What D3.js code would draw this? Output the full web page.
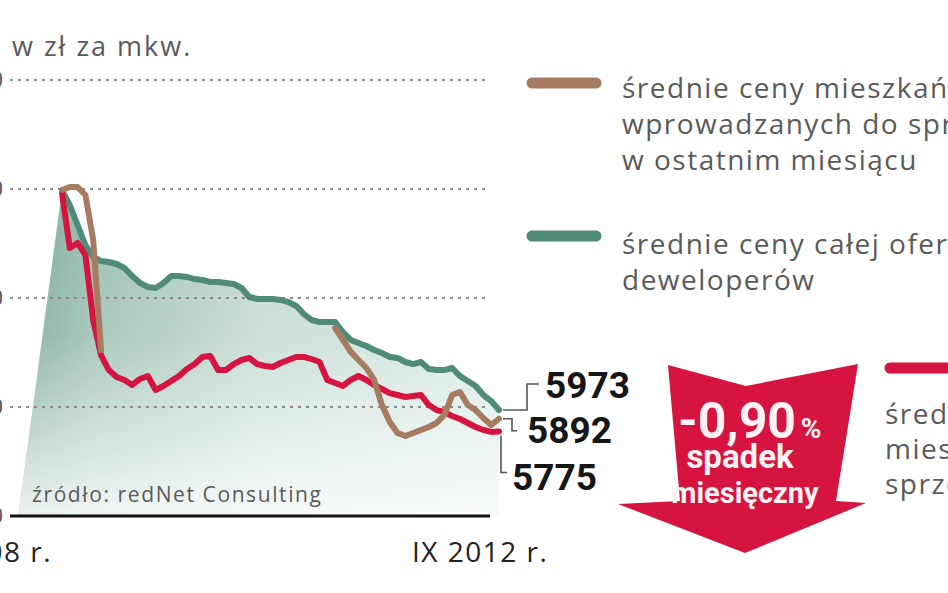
<!DOCTYPE html>
<html><head><meta charset="utf-8">
<script src="https://cdn.jsdelivr.net/npm/d3@7"></script>
<style>body{margin:0;background:#fff;} svg{display:block;}</style>
</head><body>
<svg id="c" width="948" height="593"></svg>
<script>
// ---- data (month index 0 = I 2008, 56 = IX 2012) ----
const monthCount = 57;
const xLabels = ["I 2008 r.", "IX 2012 r."];
const yTicks = [5000, 6000, 7000, 8000, 9000];
const unitLabel = "w zł za mkw.";
const sourceLabel = "źródło: redNet Consulting";
const areaStart = { m: -5.6, v: 5000 };
const greenValues = [7990,7853,7670,7486,7376,7339,7330,7312,7275,7202,
  7138,7101,7092,7138,7202,7202,7193,7174,7165,7147,
  7147,7138,7128,7092,7009,6991,6991,6991,6982,6963,
  6927,6853,6798,6780,6780,6780,6688,6615,6587,6560,
  6523,6495,6459,6450,6413,6394,6413,6349,6339,6339,
  6358,6284,6239,6193,6110,6055,5973];
const redValues = [7963,7459,7505,7394,6798,6477,6339,6275,6248,6202,
  6257,6284,6156,6193,6239,6284,6349,6394,6459,6468,
  6339,6339,6394,6431,6450,6394,6376,6367,6404,6431,
  6459,6459,6440,6413,6248,6220,6193,6248,6284,6248,
  6202,6165,6128,6110,6092,6101,6110,6018,5972,5954,
  5917,5890,5853,5817,5789,5771,5775];
const brownValues = [7991,8018,8018,7945,7532,6520,
  null,null,null,null,null,null,null,null,null,null,null,null,null,null,
  null,null,null,null,null,null,null,null,null,null,null,null,null,null,null,
  6725,6615,6505,6431,6358,6248,6018,5862,5761,5734,
  5761,5789,5817,5853,5927,6110,6138,6018,5972,5899,
  5835,5892];
const legendBrown = ["średnie ceny mieszkań", "wprowadzanych do sprzedaży", "w ostatnim miesiącu"];
const legendGreen = ["średnie ceny całej oferty", "deweloperów"];
const legendRed = ["średnie ceny", "mieszkań", "sprzedanych"];
const changeValue = "-0,90";
const changeLines = ["spadek", "miesięczny"];

// ---- colours ----
const cGreen = "#4f8b76", cBrown = "#a67b62", cRed = "#d5143f";
const textFont = "Open Sans";

const svg = d3.select("#c");
const x = d3.scaleLinear().domain([0, 56]).range([62, 499]);
const y = d3.scaleLinear().domain([5000, 9000]).range([516, 80]);

const defs = svg.append("defs");
const gH = defs.append("linearGradient").attr("id","gH").attr("gradientUnits","userSpaceOnUse")
  .attr("x1",20).attr("x2",500).attr("y1",0).attr("y2",0);
[[0,"#7aa798"],[0.15,"#9bbfb2"],[0.5,"#c3dad1"],[1,"#d6e8e1"]].forEach(s=>gH.append("stop").attr("offset",s[0]).attr("stop-color",s[1]));
const gV = defs.append("linearGradient").attr("id","gV").attr("gradientUnits","userSpaceOnUse")
  .attr("x1",0).attr("x2",0).attr("y1",190).attr("y2",516);
[[0,0],[0.45,0.15],[1,0.85]].forEach(s=>gV.append("stop").attr("offset",s[0]).attr("stop-color","#fff").attr("stop-opacity",s[1]));

// area
const areaData = [areaStart].concat(greenValues.map((v,i)=>({m:i,v})));
const area = d3.area().x(d=>x(d.m)).y0(y(5000)).y1(d=>y(d.v));
svg.append("path").datum(areaData).attr("d",area).attr("fill","url(#gH)");
svg.append("path").datum(areaData).attr("d",area).attr("fill","url(#gV)");

// grid
const grid = svg.append("g");
yTicks.filter(t=>t>5000).forEach(t=>{
  grid.append("line").attr("x1",10).attr("x2",490).attr("y1",y(t)).attr("y2",y(t))
    .attr("stroke","#8a8a8a").attr("stroke-width",2).attr("stroke-dasharray","3,5");
});
// y tick labels (mostly outside the crop)
yTicks.forEach(t=>{
  svg.append("text").attr("x",3).attr("y",y(t)+7).attr("text-anchor","end")
    .attr("font-family","Roboto").attr("font-size",20).attr("fill","#555").text(t);
});
// baseline
svg.append("line").attr("x1",10).attr("x2",490).attr("y1",y(5000)).attr("y2",y(5000))
  .attr("stroke","#111").attr("stroke-width",3);

// lines
const line = d3.line().defined(d=>d.v!=null).x(d=>x(d.m)).y(d=>y(d.v)).curve(d3.curveLinear);
function drawLine(vals,color){
  svg.append("path").datum(vals.map((v,i)=>({m:i,v})))
    .attr("d",line).attr("fill","none").attr("stroke",color).attr("stroke-width",6)
    .attr("stroke-linejoin","round").attr("stroke-linecap","round");
}
drawLine(greenValues,cGreen);
drawLine(redValues,cRed);
drawLine(brownValues,cBrown);

// unit label
svg.append("text").attr("x",12).attr("y",56).attr("font-family",textFont).attr("font-size",27)
  .attr("letter-spacing",2).attr("fill","#5a5a5a").text(unitLabel);
// source
svg.append("text").attr("x",32).attr("y",502).attr("font-family",textFont).attr("font-size",21)
  .attr("letter-spacing",1.6).attr("fill","#5a5a5a").text(sourceLabel);
// x labels
svg.append("text").attr("x",52).attr("y",562).attr("text-anchor","end").attr("font-family",textFont)
  .attr("font-size",28).attr("letter-spacing",1.5).attr("fill","#222").text(xLabels[0]);
svg.append("text").attr("x",412).attr("y",562).attr("font-family",textFont)
  .attr("font-size",28).attr("letter-spacing",1.5).attr("fill","#222").text(xLabels[1]);

// end labels with connectors
const endG = svg.append("g").attr("font-family","Roboto").attr("font-weight","bold").attr("font-size",37).attr("fill","#161616");
const last = 56;
const gx = x(last), gy = y(greenValues[last]), by = y(brownValues[last]), ry = y(redValues[last]);
const conn = svg.append("g").attr("fill","none").attr("stroke","#555").attr("stroke-width",1.6);
conn.append("path").attr("d",`M${gx+4},${gy}H${gx+28}V${gy-26}H${gx+40}`);
endG.append("text").attr("x",gx+46).attr("y",gy-12).text(greenValues[last]);
conn.append("path").attr("d",`M${gx+4},${by}H${gx+13}V${by+12}H${gx+18}`);
endG.append("text").attr("x",gx+28).attr("y",by+24).text(brownValues[last]);
conn.append("path").attr("d",`M${gx+2},${ry+4}V${ry+41}H${gx+8}`);
endG.append("text").attr("x",gx+13).attr("y",ry+58).text(redValues[last]);

// legend
function legend(ypos, color, lines, sx1, sx2, tx, ty, dy){
  svg.append("line").attr("x1",sx1).attr("x2",sx2).attr("y1",ypos).attr("y2",ypos)
    .attr("stroke",color).attr("stroke-width",11).attr("stroke-linecap","round");
  const t = svg.append("text").attr("font-family",textFont).attr("font-size",28)
    .attr("letter-spacing",1.5).attr("fill","#5a5a5a");
  lines.forEach((l,i)=>t.append("tspan").attr("x",tx).attr("y",ty+i*dy).text(l));
}
legend(83, cBrown, legendBrown, 532, 596, 622, 98, 36);
legend(236, cGreen, legendGreen, 532, 596, 622, 254, 36);
legend(368, cRed, legendRed, 890, 960, 885, 424, 35);

// arrow
svg.append("path").attr("d","M668,365L746,386L858,364L836,501L866,503L745,553L618,504L680,501Z")
  .attr("fill",cRed);
const at = svg.append("g").attr("font-family","Roboto").attr("font-weight","bold").attr("fill","#fff2f5").attr("text-anchor","middle");
at.append("text").attr("x",737).attr("y",438).attr("font-size",50).text(changeValue);
at.append("text").attr("x",811).attr("y",438).attr("font-size",28).text("%");
at.append("text").attr("x",740).attr("y",468).attr("font-size",33).text(changeLines[0]);
at.append("text").attr("x",745).attr("y",503).attr("font-size",29).text(changeLines[1]);
</script>
</body></html>
